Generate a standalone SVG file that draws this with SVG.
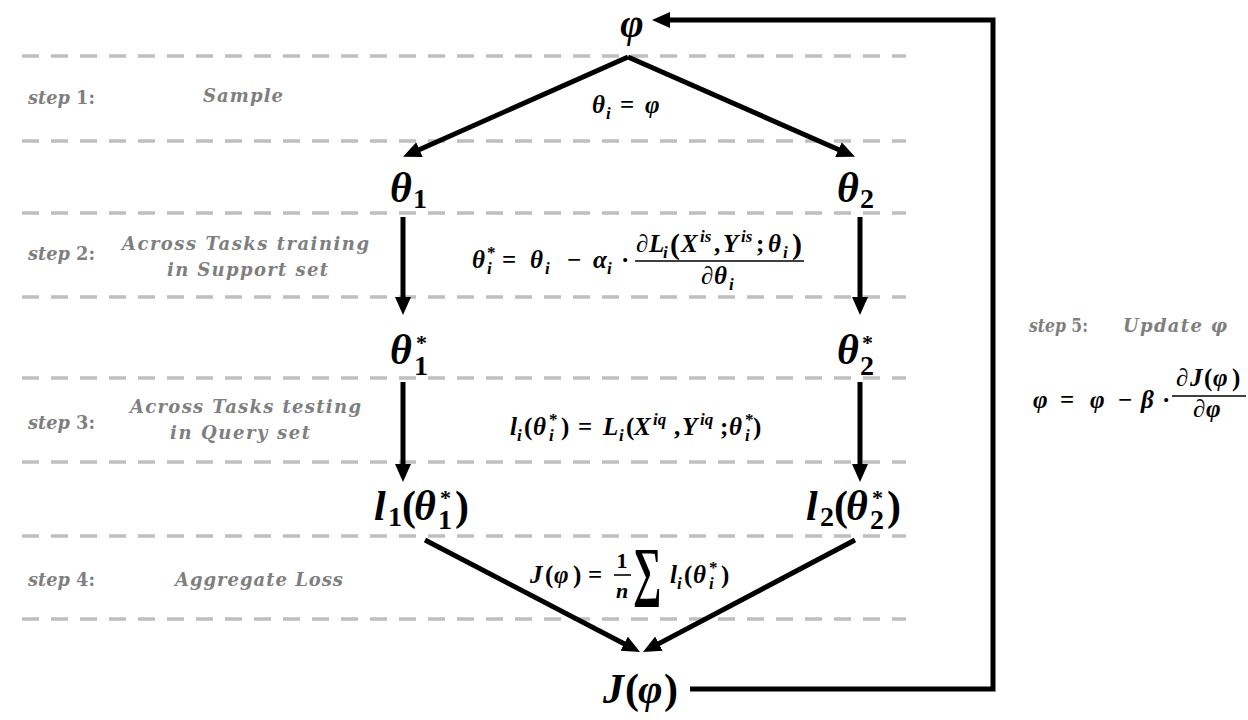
<svg xmlns="http://www.w3.org/2000/svg" width="1248" height="720" viewBox="0 0 1248 720">
<style>
.bg{fill:#ffffff}
.dash{stroke:#bfbfbf;stroke-width:3.5;stroke-dasharray:17 12;fill:none}
.con{stroke:#000;stroke-width:5;fill:none}
.g{font-family:"DejaVu Serif","Liberation Serif",serif;font-weight:bold;font-style:italic;fill:#7f7f7f;font-size:18px}
.u{font-style:normal}
.m{font-family:"Liberation Serif","DejaVu Serif",serif;font-weight:bold;font-style:italic;fill:#000}
.n{font-family:"Liberation Serif","DejaVu Serif",serif;font-weight:bold;font-style:normal;fill:#000}
.big{font-size:42px}
.bs{font-size:28px}
.bsup{font-size:22px}
.f{font-size:25px}
.fs{font-size:17px}
.fr{stroke:#000;stroke-width:1.6}
</style>
<defs>
<marker id="ah" markerUnits="userSpaceOnUse" markerWidth="20" markerHeight="18" refX="6" refY="8" orient="auto">
<path d="M0,0 L18,8 L0,16 z" fill="#000"/>
</marker>
</defs>
<rect class="bg" x="0" y="0" width="1248" height="720"/>

<g id="bands">
<line class="dash" x1="22" y1="56" x2="906" y2="56"/>
<line class="dash" x1="22" y1="141" x2="906" y2="141"/>
<line class="dash" x1="22" y1="213" x2="906" y2="213"/>
<line class="dash" x1="22" y1="297" x2="906" y2="297"/>
<line class="dash" x1="22" y1="378" x2="906" y2="378"/>
<line class="dash" x1="22" y1="462" x2="906" y2="462"/>
<line class="dash" x1="22" y1="536" x2="906" y2="536"/>
<line class="dash" x1="22" y1="619" x2="906" y2="619"/>
</g>

<g id="steps">
<text class="g" x="28" y="104" textLength="67" lengthAdjust="spacingAndGlyphs">step<tspan class="u"> 1:</tspan></text>
<text class="g" x="203" y="102" textLength="80" lengthAdjust="spacing">Sample</text>
<text class="g" x="28" y="260" textLength="67" lengthAdjust="spacingAndGlyphs">step<tspan class="u"> 2:</tspan></text>
<text class="g" x="122" y="250" textLength="247" lengthAdjust="spacing">Across Tasks training</text>
<text class="g" x="167" y="276" textLength="161" lengthAdjust="spacing">in Support set</text>
<text class="g" x="28" y="429" textLength="67" lengthAdjust="spacingAndGlyphs">step<tspan class="u"> 3:</tspan></text>
<text class="g" x="130" y="413" textLength="231" lengthAdjust="spacing">Across Tasks testing</text>
<text class="g" x="170" y="439" textLength="140" lengthAdjust="spacing">in Query set</text>
<text class="g" x="28" y="586" textLength="67" lengthAdjust="spacingAndGlyphs">step<tspan class="u"> 4:</tspan></text>
<text class="g" x="175" y="586" textLength="168" lengthAdjust="spacing">Aggregate Loss</text>
<text class="g" x="1029" y="332" textLength="59" lengthAdjust="spacingAndGlyphs">step<tspan class="u"> 5:</tspan></text>
<text class="g" x="1123" y="332" textLength="104" lengthAdjust="spacing">Update  φ</text>
</g>

<g id="connectors">
<line class="con" x1="628" y1="57" x2="414" y2="152" marker-end="url(#ah)"/>
<line class="con" x1="628" y1="57" x2="844" y2="152" marker-end="url(#ah)"/>
<line class="con" x1="403" y1="217" x2="403" y2="303" marker-end="url(#ah)"/>
<line class="con" x1="860" y1="217" x2="860" y2="303" marker-end="url(#ah)"/>
<line class="con" x1="403" y1="382" x2="403" y2="470" marker-end="url(#ah)"/>
<line class="con" x1="860" y1="382" x2="860" y2="470" marker-end="url(#ah)"/>
<line class="con" x1="425" y1="540" x2="629.4" y2="646.5" marker-end="url(#ah)"/>
<line class="con" x1="855" y1="540" x2="653.6" y2="646.4" marker-end="url(#ah)"/>
<polyline class="con" points="690,689 993,689 993,20 664,20" marker-end="url(#ah)"/>
</g>

<g id="node-phi">
<text class="m" font-size="40" x="632" y="37" text-anchor="middle">φ</text>
</g>
<g id="node-theta1">
<text class="m big" x="390" y="202">θ</text>
<text class="n bs" x="413" y="208">1</text>
</g>
<g id="node-theta2">
<text class="m big" x="837" y="202">θ</text>
<text class="n bs" x="860" y="208">2</text>
</g>
<g id="node-theta1s">
<text class="m big" x="390" y="364">θ</text>
<text class="n bsup" x="416" y="350">*</text>
<text class="n bs" x="414" y="375">1</text>
</g>
<g id="node-theta2s">
<text class="m big" x="837" y="364">θ</text>
<text class="n bsup" x="862" y="350">*</text>
<text class="n bs" x="860" y="375">2</text>
</g>
<g id="node-l1">
<text class="m big" x="374" y="520">l</text>
<text class="n bs" x="388" y="526">1</text>
<text class="n big" x="402" y="520">(</text>
<text class="m big" x="414" y="520">θ</text>
<text class="n bsup" x="440" y="505">*</text>
<text class="n bs" x="438" y="529">1</text>
<text class="n big" x="455" y="520">)</text>
</g>
<g id="node-l2">
<text class="m big" x="806" y="520">l</text>
<text class="n bs" x="820" y="526">2</text>
<text class="n big" x="834" y="520">(</text>
<text class="m big" x="846" y="520">θ</text>
<text class="n bsup" x="872" y="505">*</text>
<text class="n bs" x="870" y="529">2</text>
<text class="n big" x="887" y="520">)</text>
</g>
<g id="node-J">
<text class="m big" x="603" y="703">J</text>
<text class="n big" x="625" y="703">(</text>
<text class="m big" x="638" y="703">φ</text>
<text class="n big" x="664" y="703">)</text>
</g>

<g id="formula-1">
<text class="m f" x="592" y="113">θ</text>
<text class="m fs" x="606" y="119">i</text>
<text class="n f" x="620" y="113">=</text>
<text class="m f" x="645" y="113">φ</text>
</g>

<g id="formula-2">
<text class="m f" x="472" y="268">θ</text>
<text class="n fs" x="487" y="258">*</text>
<text class="m fs" x="487" y="274">i</text>
<text class="n f" x="502" y="268">=</text>
<text class="m f" x="530" y="268">θ</text>
<text class="m fs" x="545" y="274">i</text>
<text class="n f" x="567" y="268">−</text>
<text class="m f" x="593" y="268">α</text>
<text class="m fs" x="607" y="274">i</text>
<text class="n f" x="621" y="268">·</text>
<text class="m f" x="636" y="252">∂</text>
<text class="m f" x="649" y="252">L</text>
<text class="m fs" x="663" y="258">i</text>
<text class="n" x="670" y="254" font-size="30">(</text>
<text class="m f" x="681" y="252">X</text>
<text class="m fs" x="700" y="242">is</text>
<text class="n f" x="714" y="252">,</text>
<text class="m f" x="723" y="252">Y</text>
<text class="m fs" x="741" y="242">is</text>
<text class="n f" x="756" y="252">;</text>
<text class="m f" x="768" y="252">θ</text>
<text class="m fs" x="783" y="258">i</text>
<text class="n" x="792" y="254" font-size="30">)</text>
<line class="fr" x1="635" y1="261" x2="804" y2="261"/>
<text class="m f" x="701" y="284">∂</text>
<text class="m f" x="714" y="284">θ</text>
<text class="m fs" x="729" y="290">i</text>
</g>

<g id="formula-3">
<text class="m f" x="510" y="435">l</text>
<text class="m fs" x="517" y="441">i</text>
<text class="n f" x="524" y="435">(</text>
<text class="m f" x="533" y="435">θ</text>
<text class="n fs" x="549" y="425">*</text>
<text class="m fs" x="549" y="441">i</text>
<text class="n f" x="561" y="435">)</text>
<text class="n f" x="578" y="435">=</text>
<text class="m f" x="603" y="435">L</text>
<text class="m fs" x="619" y="441">i</text>
<text class="n f" x="626" y="435">(</text>
<text class="m f" x="634" y="435">X</text>
<text class="m fs" x="653" y="425">iq</text>
<text class="n f" x="674" y="435">,</text>
<text class="m f" x="682" y="435">Y</text>
<text class="m fs" x="700" y="425">iq</text>
<text class="n f" x="720" y="435">;</text>
<text class="m f" x="729" y="435">θ</text>
<text class="n fs" x="745" y="425">*</text>
<text class="m fs" x="745" y="441">i</text>
<text class="n f" x="753" y="435">)</text>
</g>

<g id="formula-4">
<text class="m f" x="530" y="583">J</text>
<text class="n f" x="545" y="583">(</text>
<text class="m f" x="554" y="583">φ</text>
<text class="n f" x="573" y="583">)</text>
<text class="n f" x="588" y="583">=</text>
<text class="n" x="622" y="568" font-size="22" text-anchor="middle">1</text>
<line class="fr" x1="614" y1="575" x2="631" y2="575"/>
<text class="m" x="622" y="598" font-size="22" text-anchor="middle">n</text>
<text class="n" x="633" y="0" font-size="40" transform="translate(0,593) scale(1,1.65)">∑</text>
<text class="m f" x="670" y="583">l</text>
<text class="m fs" x="677" y="589">i</text>
<text class="n f" x="684" y="583">(</text>
<text class="m f" x="693" y="583">θ</text>
<text class="n fs" x="709" y="573">*</text>
<text class="m fs" x="709" y="589">i</text>
<text class="n f" x="721" y="583">)</text>
</g>

<g id="formula-5">
<text class="m f" x="1033" y="408">φ</text>
<text class="n f" x="1060" y="408">=</text>
<text class="m f" x="1090" y="408">φ</text>
<text class="n f" x="1118" y="408">−</text>
<text class="m f" x="1141" y="408">β</text>
<text class="n f" x="1162" y="408">·</text>
<text class="m f" x="1176" y="386">∂</text>
<text class="m f" x="1190" y="386">J</text>
<text class="n f" x="1204" y="386">(</text>
<text class="m f" x="1213" y="386">φ</text>
<text class="n f" x="1232" y="386">)</text>
<line class="fr" x1="1172" y1="396" x2="1246" y2="396"/>
<text class="m f" x="1193" y="417">∂</text>
<text class="m f" x="1206" y="417">φ</text>
</g>
</svg>
